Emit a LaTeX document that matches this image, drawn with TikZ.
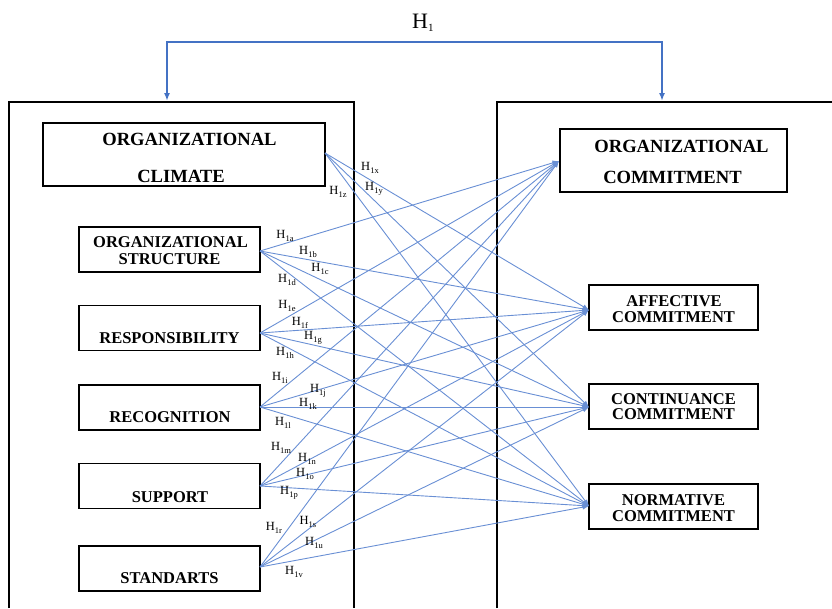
\documentclass[tikz,border=0pt]{standalone}
\usepackage{fontspec}
\setmainfont{Liberation Serif}
\usetikzlibrary{arrows.meta}
\definecolor{hblue}{RGB}{68,114,196}
\definecolor{lblue}{RGB}{105,143,212}
\newcommand{\hlb}[1]{H\raisebox{-0.45ex}{\fontsize{8.5}{9}\selectfont 1#1}}
\begin{document}
\begin{tikzpicture}[x=1pt,y=-1pt,
  outer/.style={line width=2pt,black},
  box/.style={draw,line width=1.6pt,minimum width=181pt,minimum height=45pt,inner sep=0pt},
  bigbox/.style={draw,line width=1.6pt,inner sep=0pt},
  rbox/.style={draw,line width=1.6pt,minimum width=169pt,minimum height=45pt,inner sep=0pt},
  btext/.style={font=\bfseries\fontsize{16.5}{16}\selectfont,anchor=base,inner sep=0pt},
  bigtext/.style={font=\bfseries\fontsize{18.6}{19}\selectfont,anchor=base,inner sep=0pt},
  conn/.style={lblue,line width=0.9pt,-{Latex[length=6.5pt,width=5pt]}},
  hlab/.style={font=\fontsize{12.5}{13}\selectfont,inner sep=0pt}]
\useasboundingbox (0,0) rectangle (832,608);

% outer frames
\draw[outer] (9,608) -- (9,102) -- (354,102) -- (354,608);
\draw[outer] (497,608) -- (497,102) -- (832,102);

% H1 bracket
\coordinate (lt) at (167,101);
\coordinate (rt) at (662,101);
\coordinate (hl) at (167,42);
\coordinate (hr) at (662,42);
\draw[hblue,line width=1.8pt,{Latex[length=8pt,width=6pt]}-{Latex[length=8pt,width=6pt]}] (lt) -- (hl) -- (hr) -- (rt);
\node[anchor=base west,inner sep=0pt,font=\fontsize{22}{23}\selectfont] (h1) at (412,28) {H\raisebox{-0.35ex}{\fontsize{11}{12}\selectfont 1}};

% left boxes
\node[bigbox,minimum width=282pt,minimum height=63pt] (cl) at (184,154.5) {};
\node[bigtext] (clt1) at (189.5,145) {ORGANIZATIONAL};
\node[bigtext] (clt2) at (181,182) {CLIMATE};

\node[box] (st) at (169.5,249.5) {};
\node[btext] (stt1) at (170.5,247) {ORGANIZATIONAL};
\node[btext] (stt2) at (169.5,264) {STRUCTURE};

\node[box] (re) at (169.5,328) {};
\node[btext] (ret) at (169.5,343) {RESPONSIBILITY};

\node[box] (rc) at (169.5,407.5) {};
\node[btext] (rct) at (170,422) {RECOGNITION};

\node[box] (su) at (169.5,486) {};
\node[btext] (sut) at (170,502) {SUPPORT};

\node[box] (sd) at (169.5,568.5) {};
\node[btext] (sdt) at (169.5,583) {STANDARTS};

% right boxes
\node[bigbox,minimum width=227pt,minimum height=63pt] (oc) at (673.5,160.5) {};
\node[bigtext] (oct1) at (681.5,152) {ORGANIZATIONAL};
\node[bigtext] (oct2) at (672.5,183) {COMMITMENT};

\node[rbox] (af) at (673.5,307.5) {};
\node[btext] (aft1) at (674,306) {AFFECTIVE};
\node[btext] (aft2) at (673.5,322) {COMMITMENT};

\node[rbox] (co) at (673.5,406.5) {};
\node[btext] (cot1) at (673.5,404) {CONTINUANCE};
\node[btext] (cot2) at (673.5,419) {COMMITMENT};

\node[rbox] (no) at (673.5,506.5) {};
\node[btext] (not1) at (673.5,505) {NORMATIVE};
\node[btext] (not2) at (673.5,521) {COMMITMENT};

% connector hubs
\coordinate (clS) at (325,153);
\coordinate (stS) at (260,251);
\coordinate (reS) at (260,333);
\coordinate (rcS) at (260,407);
\coordinate (suS) at (260,486);
\coordinate (sdS) at (260,567);
\coordinate (ocT) at (559,161);
\coordinate (afT) at (589,310);
\coordinate (coT) at (589,407);
\coordinate (noT) at (589,506);

% connectors
\foreach \s in {clS} {
  \draw[conn] (\s) -- (afT);
  \draw[conn] (\s) -- (coT);
  \draw[conn] (\s) -- (noT);
}
\foreach \s in {stS,reS,rcS,suS,sdS} {
  \draw[conn] (\s) -- (ocT);
  \draw[conn] (\s) -- (afT);
  \draw[conn] (\s) -- (coT);
  \draw[conn] (\s) -- (noT);
}

% hypothesis labels
\node[hlab] (lx) at (370,168) {\hlb{x}};
\node[hlab] (ly) at (374,189) {\hlb{y}};
\node[hlab] (lz) at (338,192) {\hlb{z}};
\node[hlab] (la) at (285,236) {\hlb{a}};
\node[hlab] (lb) at (308,252) {\hlb{b}};
\node[hlab] (lc) at (320,269) {\hlb{c}};
\node[hlab] (ld) at (287,280) {\hlb{d}};
\node[hlab] (le) at (287,306) {\hlb{e}};
\node[hlab] (lf) at (300,323) {\hlb{f}};
\node[hlab] (lg) at (313,338) {\hlb{g}};
\node[hlab] (lh) at (285,353) {\hlb{h}};
\node[hlab] (li) at (280,378) {\hlb{i}};
\node[hlab] (lj) at (318,391) {\hlb{j}};
\node[hlab] (lk) at (308,404) {\hlb{k}};
\node[hlab] (ll) at (283,423) {\hlb{l}};
\node[hlab] (lm) at (281,448) {\hlb{m}};
\node[hlab] (ln) at (307,459) {\hlb{n}};
\node[hlab] (lo) at (305,474) {\hlb{o}};
\node[hlab] (lp) at (289,493) {\hlb{p}};
\node[hlab] (lr) at (274,528) {\hlb{r}};
\node[hlab] (ls) at (308,522) {\hlb{s}};
\node[hlab] (lu) at (314,543) {\hlb{u}};
\node[hlab] (lv) at (294,572) {\hlb{v}};
\end{tikzpicture}
\end{document}
